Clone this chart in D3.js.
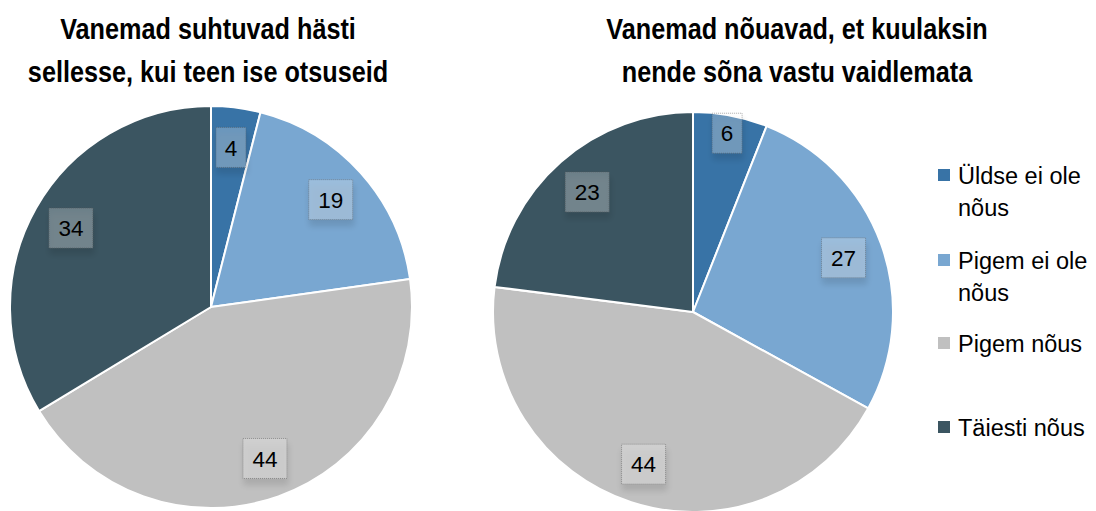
<!DOCTYPE html>
<html><head><meta charset="utf-8">
<script src="https://cdn.jsdelivr.net/npm/d3@7"></script>
<style>body{margin:0;background:#fff}svg{display:block}</style>
</head><body>
<svg id="c" width="1096" height="511"></svg>
<script>
const categories = ["Üldse ei ole nõus", "Pigem ei ole nõus", "Pigem nõus", "Täiesti nõus"];
const legendLines = [["Üldse ei ole", "nõus"], ["Pigem ei ole", "nõus"], ["Pigem nõus"], ["Täiesti nõus"]];
const colors = ["#3873a6", "#79a7d1", "#c0c0c0", "#3b5561"];
const title1 = ["Vanemad suhtuvad hästi", "sellesse, kui teen ise otsuseid"];
const title2 = ["Vanemad nõuavad, et kuulaksin", "nende sõna vastu vaidlemata"];
const values1 = [4, 19, 44, 34];
const values2 = [6, 27, 44, 23];

const svg = d3.select("#c");
const defs = svg.append("defs");
const f = defs.append("filter").attr("id","sh").attr("x","-50%").attr("y","-50%").attr("width","200%").attr("height","220%");
f.append("feGaussianBlur").attr("in","SourceAlpha").attr("stdDeviation",3).attr("result","b");
f.append("feOffset").attr("in","b").attr("dx",1).attr("dy",6).attr("result","o");
f.append("feComponentTransfer").attr("in","o").attr("result","o2").append("feFuncA").attr("type","linear").attr("slope",0.45);
const m = f.append("feMerge"); m.append("feMergeNode").attr("in","o2"); m.append("feMergeNode").attr("in","SourceGraphic");

const color = d3.scaleOrdinal().domain(categories).range(colors);
const pie = d3.pie().sort(null).value(d => d.v);

function drawPie(values, cx, cy, r, titleLines, tcx, labelR) {
  const g = svg.append("g").attr("transform", `translate(${cx},${cy})`);
  const data = pie(values.map((v,i) => ({v, c: categories[i]})));
  const arc = d3.arc().innerRadius(0).outerRadius(r);
  g.selectAll("path").data(data).join("path")
    .attr("d", arc).attr("fill", d => color(d.data.c))
    .attr("stroke", "#fff").attr("stroke-width", 2).attr("stroke-linejoin","round");
  data.forEach((d, i) => {
    const lr = r * labelR[i];
    const a = (d.startAngle + d.endAngle) / 2;
    const x = Math.sin(a) * lr, y = -Math.cos(a) * lr;
    const txt = String(d.data.v);
    const w = txt.length > 1 ? 44 : 30, h = 40;
    const lg = g.append("g").attr("transform", `translate(${x},${y})`);
    lg.append("rect").attr("x", -w/2).attr("y", -h/2).attr("width", w).attr("height", h)
      .attr("fill", "rgba(255,255,255,0.25)").attr("stroke", "rgba(90,90,90,0.5)")
      .attr("stroke-dasharray", "1,1").attr("stroke-width", 1).attr("filter", "url(#sh)");
    lg.append("text").attr("text-anchor","middle").attr("dy","0.36em")
      .attr("font-family","'Liberation Sans', Arial, sans-serif").attr("font-size",22.5)
      .attr("fill","#000").text(txt);
  });
  const t = svg.append("text").attr("text-anchor","middle")
    .attr("transform", `translate(${tcx},0) scale(0.87,1)`)
    .attr("font-family","'Liberation Sans', Arial, sans-serif").attr("font-weight","bold")
    .attr("font-size",29).attr("fill","#000");
  titleLines.forEach((l, i) => t.append("tspan").attr("x", 0).attr("y", 39 + i*43).text(l));
}

drawPie(values1, 211, 307, 201, title1, 208, [0.8, 0.8, 0.8, 0.8]);
drawPie(values2, 693, 312, 200, title2, 797, [0.91, 0.8, 0.8, 0.8]);

const leg = svg.append("g");
const legY = [175, 260, 343, 427];
categories.forEach((c, i) => {
  leg.append("rect").attr("x", 938).attr("y", legY[i]-6).attr("width", 12).attr("height", 12).attr("fill", color(c));
  const t = leg.append("text").attr("font-family","'Liberation Sans', Arial, sans-serif").attr("font-size",23.5).attr("fill","#000");
  legendLines[i].forEach((l, j) => t.append("tspan").attr("x", 958).attr("y", legY[i] + 9 + j*32).text(l));
});
</script>
</body></html>
